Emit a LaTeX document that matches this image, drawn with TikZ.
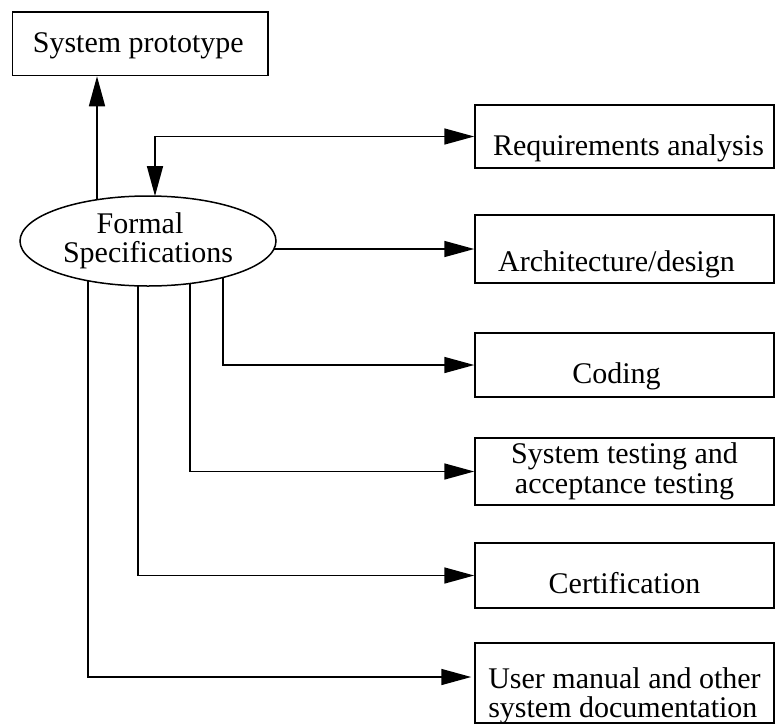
\documentclass[tikz,border=0pt]{standalone}
\usepackage{fontspec}
\setmainfont{Liberation Serif}
\usetikzlibrary{arrows.meta,shapes.geometric,backgrounds}

% move a line of text sideways without changing the width it takes up
\newcommand\nudge[2]{\hspace*{#1}#2\hspace*{-#1}}

\begin{document}
\begin{tikzpicture}[x=1pt,y=-1pt,
  >={Triangle[length=30pt,width=16pt]},
  every node/.style={font=\fontsize{30}{29.5}\selectfont},
  stage/.style={draw, line width=1.5pt, rectangle, fill=white,
                minimum width=299pt, inner sep=0pt},
  % baseline placed a fixed distance below the box centre
  oneline/.style={text height=#1, text depth=0pt},
  spec/.style={draw, line width=1.5pt, ellipse, fill=white,
               minimum width=256pt, minimum height=90pt, inner sep=0pt,
               align=center},
  link/.style={line width=1.6pt, ->}]
\useasboundingbox (0,0) rectangle (776,723);

% central ellipse and the documents derived from it
\node[spec] (spec) at (148,241) {\nudge{-8pt}{Formal}\\Specifications};

\node[stage, minimum width=255.5pt, minimum height=63.5pt,
      text height=20pt, text depth=3pt]
  (proto) at (140.25,43.75) {\nudge{-2pt}{System prototype}};

\node[stage, minimum height=63pt, oneline=37pt]
  (req) at (624.5,136.5) {\nudge{4pt}{Requirements analysis}};
\node[stage, minimum height=68pt, oneline=44pt]
  (arch) at (624.5,249) {\nudge{-8pt}{Architecture/design}};
\node[stage, minimum height=64pt, oneline=36pt]
  (code) at (624.5,365) {\nudge{-8pt}{Coding}};
\node[stage, minimum height=67pt, align=center]
  (sys) at (624.5,471.5) {System testing and\\acceptance testing};
\node[stage, minimum height=65pt, oneline=35pt]
  (cert) at (624.5,575.5) {Certification};
\node[stage, minimum height=80pt]
  (user) at (624.5,683)
  {\raisebox{-14pt}[\height][\depth]{\begin{tabular}{@{}l@{}}User manual and other\\system documentation\end{tabular}}};

% points where the connectors leave the ellipse (hidden under its fill)
\coordinate (tproto) at (97,243);
\coordinate (tman)   at (88,243);
\coordinate (tcert)  at (138,243);
\coordinate (tsys)   at (190,243);
\coordinate (tcode)  at (223,243);
\coordinate (treq)   at (155,196.1);

\begin{scope}[on background layer]
  \draw[link] (tproto) -- (tproto |- proto.south);
  \draw[link,<->] (treq) |- (req.west);
  \draw[link] (spec.center |- arch.west) -- (arch.west);
  \draw[link] (tcode) |- (code.west);
  \draw[link] (tsys) |- (sys.west);
  \draw[link] (tcert) |- (cert.west);
  \draw[link] (tman) |- ([shift={(-3pt,6pt)}]user.west);
\end{scope}
\end{tikzpicture}
\end{document}
